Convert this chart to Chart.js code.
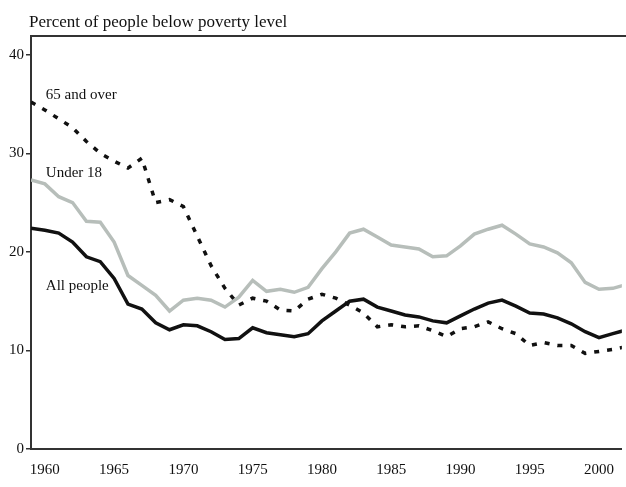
<!DOCTYPE html>
<html>
<head>
<meta charset="utf-8">
<script src="https://cdn.jsdelivr.net/npm/chart.js@4/dist/chart.umd.min.js"></script>
<style>
  html, body { margin: 0; padding: 0; background: #fff; }
  #wrap { width: 626px; height: 487px; position: relative; }
</style>
</head>
<body>
<div id="wrap"><canvas id="povertyChart"></canvas></div>
<script>
// Years 1959 - 2002
const years = [1959, 1960, 1961, 1962, 1963, 1964, 1965, 1966, 1967, 1968, 1969,
  1970, 1971, 1972, 1973, 1974, 1975, 1976, 1977, 1978, 1979,
  1980, 1981, 1982, 1983, 1984, 1985, 1986, 1987, 1988, 1989,
  1990, 1991, 1992, 1993, 1994, 1995, 1996, 1997, 1998, 1999,
  2000, 2001, 2002];

const allPeople = [22.4, 22.2, 21.9, 21.0, 19.5, 19.0, 17.3, 14.7, 14.2, 12.8, 12.1,
  12.6, 12.5, 11.9, 11.1, 11.2, 12.3, 11.8, 11.6, 11.4, 11.7,
  13.0, 14.0, 15.0, 15.2, 14.4, 14.0, 13.6, 13.4, 13.0, 12.8,
  13.5, 14.2, 14.8, 15.1, 14.5, 13.8, 13.7, 13.3, 12.7, 11.9,
  11.3, 11.7, 12.1];

const under18 = [27.3, 26.9, 25.6, 25.0, 23.1, 23.0, 21.0, 17.6, 16.6, 15.6, 14.0,
  15.1, 15.3, 15.1, 14.4, 15.4, 17.1, 16.0, 16.2, 15.9, 16.4,
  18.3, 20.0, 21.9, 22.3, 21.5, 20.7, 20.5, 20.3, 19.5, 19.6,
  20.6, 21.8, 22.3, 22.7, 21.8, 20.8, 20.5, 19.9, 18.9, 16.9,
  16.2, 16.3, 16.7];

const over65 = [35.2, 34.4, 33.5, 32.6, 31.2, 30.0, 29.2, 28.5, 29.5, 25.0, 25.3,
  24.6, 21.6, 18.6, 16.3, 14.6, 15.3, 15.0, 14.1, 14.0, 15.2,
  15.7, 15.3, 14.6, 13.8, 12.4, 12.6, 12.4, 12.5, 12.0, 11.4,
  12.2, 12.4, 12.9, 12.2, 11.7, 10.5, 10.8, 10.5, 10.5, 9.7,
  9.9, 10.1, 10.4];

const xTicks = [1960, 1965, 1970, 1975, 1980, 1985, 1990, 1995, 2000];
const yTicks = [0, 10, 20, 30, 40];

const titleText = 'Percent of people below poverty level';
// series labels: [text, year, value] placed through the scales
const seriesLabels = [
  ['65 and over', 1960, 35.5],
  ['Under 18', 1960, 27.6],
  ['All people', 1960, 16.1]
];

const serif = '"Liberation Serif", "Times New Roman", serif';

function pts(vals) {
  return years.map((y, i) => ({ x: y, y: vals[i] }));
}

// draws title, top frame line and series labels
const extrasPlugin = {
  id: 'extras',
  afterDraw(chart) {
    const ctx = chart.ctx;
    const area = chart.chartArea;
    const xs = chart.scales.x, ys = chart.scales.y;
    ctx.save();
    ctx.strokeStyle = '#333';
    ctx.lineWidth = 2;
    ctx.beginPath();
    ctx.moveTo(area.left, area.top);
    ctx.lineTo(chart.width, area.top);
    ctx.stroke();

    ctx.fillStyle = '#111';
    ctx.font = '17px ' + serif;
    ctx.textBaseline = 'alphabetic';
    ctx.textAlign = 'left';
    ctx.fillText(titleText, 29, 27);

    ctx.font = '15px ' + serif;
    seriesLabels.forEach(l => {
      ctx.fillText(l[0], xs.getPixelForValue(l[1]) + 1, ys.getPixelForValue(l[2]));
    });
    ctx.restore();
  }
};

new Chart(document.getElementById('povertyChart'), {
  type: 'line',
  data: {
    datasets: [
      {
        label: 'Under 18',
        data: pts(under18),
        borderColor: '#b7beba',
        borderWidth: 3.5,
        pointRadius: 0,
        tension: 0
      },
      {
        label: '65 and over',
        data: pts(over65),
        borderColor: '#111',
        borderWidth: 3.5,
        borderDash: [5, 8],
        borderCapStyle: 'butt',
        pointRadius: 0,
        tension: 0
      },
      {
        label: 'All people',
        data: pts(allPeople),
        borderColor: '#111',
        borderWidth: 3.5,
        pointRadius: 0,
        tension: 0
      }
    ]
  },
  options: {
    responsive: true,
    maintainAspectRatio: false,
    animation: false,
    layout: { padding: { top: 36, right: 0, left: 0, bottom: 0 } },
    plugins: {
      legend: { display: false },
      tooltip: { enabled: false }
    },
    scales: {
      x: {
        type: 'linear',
        min: 1959,
        max: 2001.65,
        afterBuildTicks: s => { s.ticks = xTicks.map(v => ({ value: v })); },
        afterFit: s => { s.height = 38; },
        grid: { display: false, drawTicks: false },
        border: { display: true, color: '#333', width: 2 },
        ticks: {
          color: '#111',
          font: { family: serif, size: 15 },
          padding: 12,
          maxRotation: 0,
          callback: v => String(v)
        }
      },
      y: {
        min: 0,
        max: 41.9,
        afterBuildTicks: s => { s.ticks = yTicks.map(v => ({ value: v })); },
        afterFit: s => { s.width = 31; },
        grid: { drawOnChartArea: false, drawTicks: true, tickLength: 5, color: '#333', lineWidth: 1.5 },
        border: { display: true, color: '#333', width: 2 },
        ticks: {
          color: '#111',
          font: { family: serif, size: 15 },
          padding: 2
        }
      }
    }
  },
  plugins: [extrasPlugin]
});
</script>
</body>
</html>
